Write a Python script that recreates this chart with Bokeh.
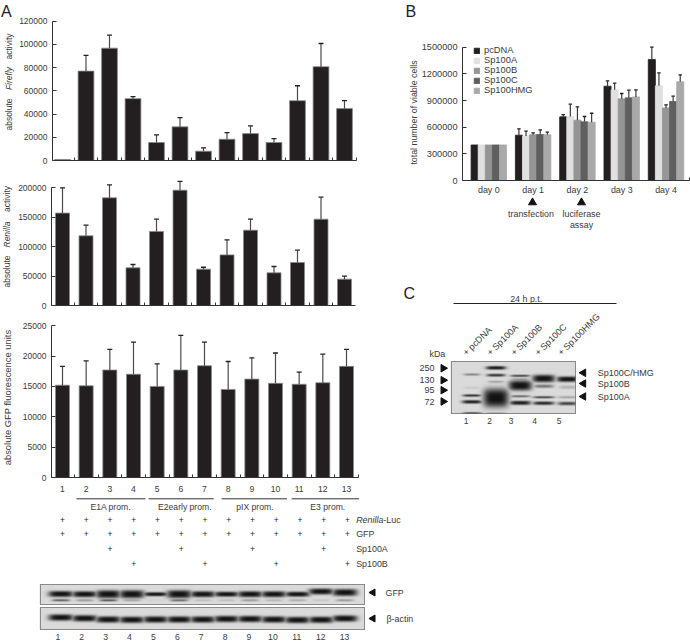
import numpy as np
from bokeh.plotting import figure
from bokeh.embed import file_html
from bokeh.resources import INLINE
from bokeh.models import Legend, LegendItem, FixedTicker, Range1d, ColumnDataSource, LinearColorMapper
from bokeh.core.properties import value

FONT = "Liberation Sans"
TXT = "#3a3a3a"
lanes = list(range(1, 13 + 1))
firefly = [900, 77000, 96800, 53300, 15500, 29000, 8000, 18300, 23200, 15500, 51500, 80800, 44700]
firefly_top = [900, 90500, 108000, 55000, 22000, 37000, 10900, 24000, 29800, 18900, 64400, 100800, 51500]
renilla = [157000, 118400, 183000, 64000, 125800, 196000, 61800, 86000, 128000, 55500, 73000, 146700, 44800]
renilla_top = [200000, 136500, 205000, 69700, 146700, 210800, 65000, 111600, 146700, 66300, 94000, 184000, 50000]
gfp = [15200, 15100, 17700, 17000, 15000, 17700, 18400, 14500, 16200, 15500, 15350, 15600, 18300]
gfp_top = [18300, 19200, 21100, 22300, 18700, 23400, 22300, 19100, 19700, 20500, 17350, 20300, 21100]
firefly_ticks = [0, 20000, 40000, 60000, 80000, 100000, 120000]
renilla_ticks = [0, 50000, 100000, 150000, 200000]
gfp_ticks = [0, 5000, 10000, 15000, 20000, 25000]
groups = ["E1A prom.", "E2early prom.", "pIX prom.", "E3 prom."]
group_spans = [(1.59, 4.49), (4.63, 7.37), (7.70, 10.45), (10.65, 13.49)]
group_centers = [3.03, 6.15, 9.1, 12.17]
row_names = ["GFP", "Sp100A", "Sp100B"]
row_renilla = lanes
row_gfp = lanes
row_sp100a = [3, 6, 9, 12]
row_sp100b = [4, 7, 10, 13]

days = ["day 0", "day 1", "day 2", "day 3", "day 4"]
series_names = ["pcDNA", "Sp100A", "Sp100B", "Sp100C", "Sp100HMG"]
series_colors = ["#231f20", "#e0e0e0", "#959595", "#5f5f5f", "#a9a9a9"]
pcdna = [400000, 510000, 716000, 1061000, 1361000]
sp100a = [400000, 502000, 720000, 1020000, 1065000]
sp100b = [400000, 514000, 679000, 919000, 817000]
sp100c = [400000, 517000, 660000, 930000, 889000]
sp100hmg = [400000, 514000, 656000, 941000, 1110000]
pcdna_top = [400000, 581000, 742000, 1121000, 1500000]
sp100a_top = [400000, 555000, 859000, 1095000, 1211000]
sp100b_top = [400000, 536000, 829000, 979000, 851000]
sp100c_top = [400000, 570000, 720000, 1016000, 949000]
sp100hmg_top = [400000, 544000, 757000, 1020000, 1189000]
b_ticks = [0, 300000, 600000, 900000, 1200000, 1500000]

gfp_thick = [3, 3, 4, 4, 2, 4, 3, 2.5, 3, 3, 2.5, 3, 3.5]
gfp_y = [9.5, 9.7, 9.7, 9.7, 9.7, 9.7, 9.7, 9.7, 9.7, 9.7, 9.7, 7, 8]
gfp_low = [.65, .35, .7, .3, .05, .6, .15, .15, .35, .2, .25, .1, .35]
actin_y = [10, 10.8, 12, 12.3, 12, 12, 12, 11.5, 11.5, 12, 12.5, 12.3, 11]
c_bands = [
    (1, 40, 25, 2, .45), (1, 80, 25, 3, .08), (1, 103, 28, 2.5, .85), (1, 122, 30, 4, .95), (1, 158, 28, 3.5, .95),
    (2, 20, 30, 4, 1), (2, 42, 28, 3, .85), (2, 62, 25, 2, .3), (2, 110, 38, 27, 1), (2, 160, 30, 3.5, .9),
    (3, 44, 30, 2, .8), (3, 55, 28, 2, .4), (3, 73, 35, 14, 1), (3, 105, 30, 2, .6), (3, 125, 32, 5, .95), (3, 162, 28, 3, .8),
    (4, 52, 34, 10, 1), (4, 75, 30, 4, .5), (4, 108, 32, 2, .8), (4, 126, 32, 4, .9), (4, 162, 28, 3, .5),
    (5, 54, 33, 7, 1), (5, 78, 25, 4, .2), (5, 108, 30, 2, .3), (5, 127, 30, 4, .75), (5, 162, 25, 3, .25),
]
c_lanes = ["+ pcDNA", "+ Sp100A", "+ Sp100B", "+ Sp100C", "+ Sp100HMG"]
c_markers = ["250", "130", "95", "72"]
c_sizes = ["Sp100C/HMG", "Sp100B", "Sp100A"]

figs = []


def place(p, left, top):
    p.styles = {"position": "absolute", "left": f"{left}px", "top": f"{top}px"}
    p.margin = 0
    figs.append(p)
    return p


def blank(w, h, l=0, r=0, t=0, b=0, xr=None, yr=None, axes=True):
    kw = {} if axes else dict(x_axis_type=None, y_axis_type=None)
    p = figure(width=w, height=h, output_backend="svg", toolbar_location=None,
               min_border_left=l, min_border_right=r, min_border_top=t, min_border_bottom=b,
               x_range=xr, y_range=yr, **kw)
    p.outline_line_color = None
    p.grid.visible = False
    p.background_fill_alpha = 0
    p.border_fill_alpha = 0
    return p


def bars(p, xs, vals, tops, width, color="#231f20", line="#8a8a8a", err="#4a4a4a", cap=5):
    src = ColumnDataSource(dict(x=xs, v=vals))
    r = p.vbar(x="x", top="v", width=width, bottom=0, source=src, fill_color=color, line_color=line, line_width=.8)
    keep = [i for i in range(len(xs)) if tops[i] > vals[i]]
    x2 = [xs[i] for i in keep]
    p.segment(x2, [vals[i] for i in keep], x2, [tops[i] for i in keep], line_color=err, line_width=1.2)
    p.scatter(x2, [tops[i] for i in keep], marker="dash", size=cap, line_color="#222222", line_width=1.3)
    return r


def style_axes(p, ticks, label_size=8.5, standoff=5):
    ax = p.yaxis[0]
    ax.ticker = FixedTicker(ticks=ticks)
    ax.bounds = (ticks[0], ticks[-1])
    ax.major_tick_out, ax.major_tick_in, ax.minor_tick_out, ax.minor_tick_in = 0, 4, 0, 0
    ax.axis_line_color = ax.major_tick_line_color = "#333333"
    ax.axis_line_width = ax.major_tick_line_width = 1
    ax.major_label_text_font = FONT
    ax.major_label_text_font_size = f"{label_size}px"
    ax.major_label_text_color = TXT
    ax.major_label_standoff = standoff
    ax.formatter.use_scientific = False
    bx = p.xaxis[0]
    bx.major_tick_out, bx.major_tick_in, bx.minor_tick_out, bx.minor_tick_in = 0, 0, 0, 3
    bx.axis_line_color = bx.major_tick_line_color = bx.minor_tick_line_color = "#333333"
    bx.axis_line_width = bx.minor_tick_line_width = 1
    bx.major_label_text_font = FONT
    bx.major_label_text_color = TXT
    bx.major_label_text_font_size = "8.6px"


def bar_panel(top, height, frame_top, frame_bottom, y0_top, yticks, vals, tops, x_first, x_last, right, bar_w, axis_x, labels=False):
    width = 368
    step = (x_last - x_first) / 12
    xr = Range1d(1 + (axis_x - x_first) / step, 1 + (right - x_first) / step)
    yr = Range1d(0, yticks[-1] * (frame_bottom - frame_top) / (frame_bottom - y0_top))
    p = blank(width, height, l=axis_x, r=width - right, t=frame_top - top, b=top + height - frame_bottom, xr=xr, yr=yr)
    place(p, 0, top)
    style_axes(p, yticks)
    halves = [i + .5 for i in range(1, 14)]
    p.xaxis[0].ticker = FixedTicker(ticks=lanes if labels else [], minor_ticks=halves)
    bars(p, lanes, vals, tops, bar_w / step)
    return p


# ---- Panel A bars ----
bar_panel(0, 172, 8, 160, 20.7, firefly_ticks, firefly, firefly_top, 62, 344, 356, 15.8, 52)
bar_panel(172, 146, 178, 305, 187.3, renilla_ticks, renilla, renilla_top, 62, 344, 355, 14, 51)
a3 = bar_panel(318, 176, 322, 479, 325.2, gfp_ticks, gfp, gfp_top, 62, 346, 358, 14, 51, labels=True)
a3.xaxis[0].major_label_standoff = 8

# ---- Panel A table ----
tb = blank(368, 74, xr=Range1d(1 - 62 / 23.75, 1 + (368 - 62) / 23.75), yr=Range1d(0, 74), axes=False)
place(tb, 0, 495)
for (a, b_), c, n in zip(group_spans, group_centers, groups):
    tb.segment([a], [70.7], [b_], [70.7], line_color="#333333", line_width=1)
    tb.text([c], [62.5], text=[n], text_font=value(FONT), text_font_size="8.6px", text_align="center",
            text_baseline="middle", text_color=TXT)
row_levels = [49.3, 35.3, 20.7, 5.3]
for lv, ls in zip(row_levels, [row_renilla, row_gfp, row_sp100a, row_sp100b]):
    tb.text(ls, [lv] * len(ls), text=["+"] * len(ls), text_font=value(FONT), text_font_size="8.5px",
            text_align="center", text_baseline="middle", text_color="#222222")


# ---- Blots ----
def gel(w, h, bands, bg=218):
    yy, xx = np.mgrid[0:h * 2, 0:w * 2] / 2.0
    dark = np.zeros(xx.shape)
    for x0, y0, hw, hh, d in bands:
        dark = np.maximum(dark, d * np.exp(-np.abs((xx - x0) / hw) ** 4) * np.exp(-np.abs((yy - y0) / hh) ** 3))
    return (bg - (bg - 18) * dark)[::-1]


def blot(left, top, w, h, bands):
    p = blank(w + 2, h + 2, l=1, r=1, t=1, b=1, xr=Range1d(0, w), yr=Range1d(0, h), axes=False)
    place(p, left - 1, top - 1)
    mapper = LinearColorMapper(palette=[f"#{i:02x}{i:02x}{i:02x}" for i in range(256)], low=0, high=255)
    p.image(image=[gel(w, h, bands)], x=0, y=0, dw=w, dh=h, color_mapper=mapper, level="image")
    p.outline_line_color = "#6f6f6f"
    p.outline_line_width = 1.2
    return p


blot_x = [60 + 23.65 * i - 40 for i in range(13)]
gfp_bands = [(x, y, 12.5, t, 1) for x, y, t in zip(blot_x, gfp_y, gfp_thick)]
gfp_bands += [(x, 15.7, 9, 1.1, d) for x, d in zip(blot_x, gfp_low)]
blot(40, 584, 324, 20, gfp_bands)
blot(40, 607, 324, 22, [(x, y, 12.5, 3.2, 1) for x, y in zip(blot_x, actin_y)])

foot = blank(368, 12, xr=Range1d(1 - 57.3 / 23.9, 1 + (368 - 57.3) / 23.9), yr=Range1d(0, 12), axes=False)
place(foot, 0, 630)
foot.text(lanes, [6] * 13, text=[str(i) for i in lanes], text_font=value(FONT), text_font_size="8.6px",
          text_align="center", text_baseline="middle", text_color=TXT)

# ---- Panel B ----
BW = 7.1
STEP = 44.3
x_left, x_right = 462, 689
c0 = 400 + 265 / 3
to_day = lambda px: (px - c0) / STEP
bp = blank(288, 240, l=60, r=1, t=40, b=60,
           xr=Range1d(to_day(x_left), to_day(x_right)), yr=Range1d(0, 1500000 * (180 - 40) / (180 - 46.7)))
place(bp, 402, 0)
style_axes(bp, b_ticks, label_size=9.2, standoff=5)
bp.xaxis[0].ticker = FixedTicker(ticks=list(range(5)), minor_ticks=[to_day(x_right)])
bp.xaxis[0].major_label_overrides = {i: d for i, d in enumerate(days)}
bp.xaxis[0].major_label_text_font_size = "8.9px"
bp.xaxis[0].major_label_standoff = 4
items = []
all_v = [pcdna, sp100a, sp100b, sp100c, sp100hmg]
all_t = [pcdna_top, sp100a_top, sp100b_top, sp100c_top, sp100hmg_top]
for k, (n, col, v, t) in enumerate(zip(series_names, series_colors, all_v, all_t)):
    xs = [d + (k - 2) * BW / STEP for d in range(5)]
    r = bars(bp, xs, v, t, BW / STEP, color=col, line=col, err="#3a3a3a", cap=3.5)
    items.append(LegendItem(label=n, renderers=[r]))
leg = Legend(items=items, location=(11, 85), orientation="vertical", padding=0, margin=0, spacing=0,
             glyph_width=7, glyph_height=7, label_height=7, label_width=50, label_standoff=4,
             label_text_font=FONT, label_text_font_size="9.3px", label_text_color=TXT,
             background_fill_alpha=0, border_line_color=None)
bp.add_layout(leg)

# ---- Panel C blot ----
c_px = [20, 44, 68.3, 91.7, 115.7]
c_gel = [(c_px[l - 1], y / 3 - 0.3, hw / 3, hh / 3 + .4, d) for l, y, hw, hh, d in c_bands]
blot(451, 361, 124, 52, c_gel)

# ---- Page-wide layer for all labelling text ----
ov = blank(690, 642, xr=Range1d(0, 690), yr=Range1d(642, 0), axes=False)
place(ov, 0, 0)


def note(s, x, y, size=8.8, align="left", style="normal", angle=0, color=TXT):
    ov.text([x], [y], text=[s], text_font=value(FONT), text_font_size=f"{size}px", text_align=align,
            text_baseline="middle", text_font_style=style, angle=angle, angle_units="deg", text_color=color)


def arrow(xs, ys, angle, size=7.5):
    ov.scatter(xs, ys, marker="triangle", size=size, angle=angle, color="#111111")


note("A", 0.5, 10.5, size=16, color="#222222")
note("B", 405, 10.5, size=16, color="#222222")
note("C", 403, 292.5, size=16, color="#222222")

note("absolute", 8, 114, 8.5, "center", angle=90)
note("Firefly", 8, 78, 8.5, "center", "italic", 90)
note("activity", 8, 46, 8.5, "center", angle=90)
note("absolute", 6.7, 271, 8.5, "center", angle=90)
note("Renilla", 6.7, 234, 8.5, "center", "italic", 90)
note("activity", 6.7, 198.5, 8.5, "center", angle=90)
note("absolute GFP fluorescence units", 7.3, 397, 9.4, "center", angle=90)

note("Renilla", 355.7, 519.7, 8.9, style="italic")
note("-Luc", 382.8, 519.7, 8.9)
for nm, y in zip(row_names, [533.7, 548.3, 563.7]):
    note(nm, 355.7, y, 8.9)
arrow([372.5, 372.5], [592, 618], np.pi / 2, 7)
note("GFP", 385, 592, 8.9)
note("β-actin", 386, 618, 8.9)

note("total number of viable cells", 413, 112, 8.8, "center", angle=90)
arrow([532, 581], [202, 202], 0, 8)
note("transfection", 530.5, 213.5, 8.9, "center")
note("luciferase", 581, 213.5, 8.9, "center")
note("assay", 581, 224.5, 8.9, "center")

ov.segment([453], [303], [616], [303], line_color="#222222", line_width=1.2)
note("24 h p.t.", 525.7, 298, 8.9, "center")
note("kDa", 429, 353, 8.9)
for s, x in zip(c_lanes, [464, 488, 512, 536, 559]):
    note(s, x, 353.5, 9, angle=45)
marker_y = [367.7, 379.7, 389.7, 401]
for s, y in zip(c_markers, marker_y):
    note(s, 434, y, 9, "right")
arrow([442.7] * 4, marker_y, -np.pi / 2)
arrow([583] * 3, [372.3, 383, 396], np.pi / 2)
for s, y in zip(c_sizes, [372.7, 383.7, 396.5]):
    note(s, 597.3, y, 9)
for s, x in zip("12345", [465.7, 489, 510.7, 534, 558.7]):
    note(s, x, 420.7, 8.4, "center")

open("out.html", "w").write(file_html(figs, INLINE))
